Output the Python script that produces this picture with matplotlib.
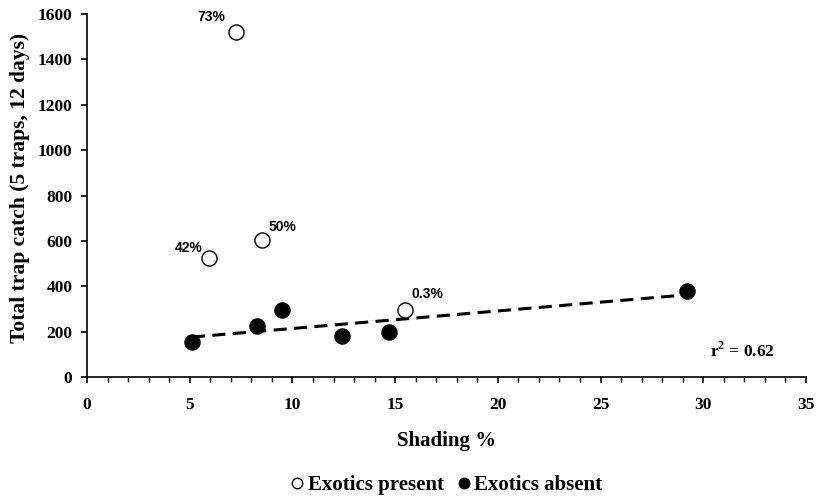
import numpy as np
import matplotlib
matplotlib.use("Agg")
import matplotlib.pyplot as plt
from matplotlib.ticker import MultipleLocator
from matplotlib.lines import Line2D

# Data
present_x = [7.25, 8.5, 5.95, 15.5]
present_y = [1520, 602, 525, 295]
present_labels = ["73%", "50%", "42%", "0.3%"]
absent_x = [5.11, 8.29, 9.51, 12.43, 14.72, 29.23]
absent_y = [154, 223, 295, 180, 200, 380]
r2_text = "0.62"

serif = "Liberation Serif"
sans = "Liberation Sans"
plt.rcParams["mathtext.fontset"] = "custom"
plt.rcParams["mathtext.rm"] = "Liberation Serif:bold"
plt.rcParams["mathtext.bf"] = "Liberation Serif:bold"

fig = plt.figure(figsize=(8.2, 5.01), dpi=100)
ax = fig.add_axes([87/820, 1 - 377/501, (806-87)/820, (377-14)/501])

# trend line for exotics absent
coef = np.polyfit(absent_x, absent_y, 1)
xs = np.array([min(absent_x), max(absent_x)])
ax.plot(xs, np.polyval(coef, xs), color="black", lw=2.2, ls=(0, (4.3, 2.4)), zorder=2)

ax.scatter(absent_x, absent_y, s=118, facecolor="black", edgecolor="black", lw=1, zorder=3)
ax.scatter(present_x, present_y, s=118, facecolor="white", edgecolor="black", lw=1, zorder=3)

offsets = [(-18, 11), (15, 10), (-14.5, 7), (16, 11.5)]
for x, y, t, (dx, dy) in zip(present_x, present_y, present_labels, offsets):
    ax.annotate(t, (x, y), xytext=(dx, dy), textcoords="offset points",
                ha="center", va="center", fontfamily=sans, fontweight="bold", fontsize=10)

ax.text(31.9, 115, r"r$^{\mathbf{2}}$ = " + r2_text, fontfamily=serif, fontweight="bold",
        fontsize=12.5, ha="center", va="center")

ax.set_xlim(0, 35)
ax.set_ylim(0, 1600)
ax.xaxis.set_major_locator(MultipleLocator(5))
ax.xaxis.set_minor_locator(MultipleLocator(1))
ax.yaxis.set_major_locator(MultipleLocator(200))
for s in ("top", "right"):
    ax.spines[s].set_visible(False)
for s in ("left", "bottom"):
    ax.spines[s].set_linewidth(1.2)
ax.tick_params(axis="both", which="major", direction="out", length=4.5, width=1.2, pad=6)
ax.tick_params(axis="x", which="minor", direction="out", length=3.5, width=1)
for lab in ax.get_xticklabels() + ax.get_yticklabels():
    lab.set_fontfamily(serif)
    lab.set_fontweight("bold")
    lab.set_fontsize(12.5)
ax.tick_params(axis="x", pad=10)

ax.set_xlabel("Shading %", fontfamily=serif, fontweight="bold", fontsize=15, labelpad=13)
fig.text(20/820, 1 - 188/501, "Total trap catch (5 traps, 12 days)", rotation=90,
         fontfamily=serif, fontweight="bold", fontsize=15.5, ha="center", va="center")

handles = [Line2D([], [], ls="none", marker="o", markersize=7.5, markerfacecolor="white",
                  markeredgecolor="black"),
           Line2D([], [], ls="none", marker="o", markersize=7.5, markerfacecolor="black",
                  markeredgecolor="black")]
fig.legend(handles, ["Exotics present", "Exotics absent"], loc="center",
           bbox_to_anchor=(445/820, 1 - 485/501), ncol=2, frameon=False,
           prop={"family": serif, "weight": "bold", "size": 15},
           handletextpad=0.05, columnspacing=0.5, handlelength=0.9)

fig.savefig("out.png", dpi=100)
